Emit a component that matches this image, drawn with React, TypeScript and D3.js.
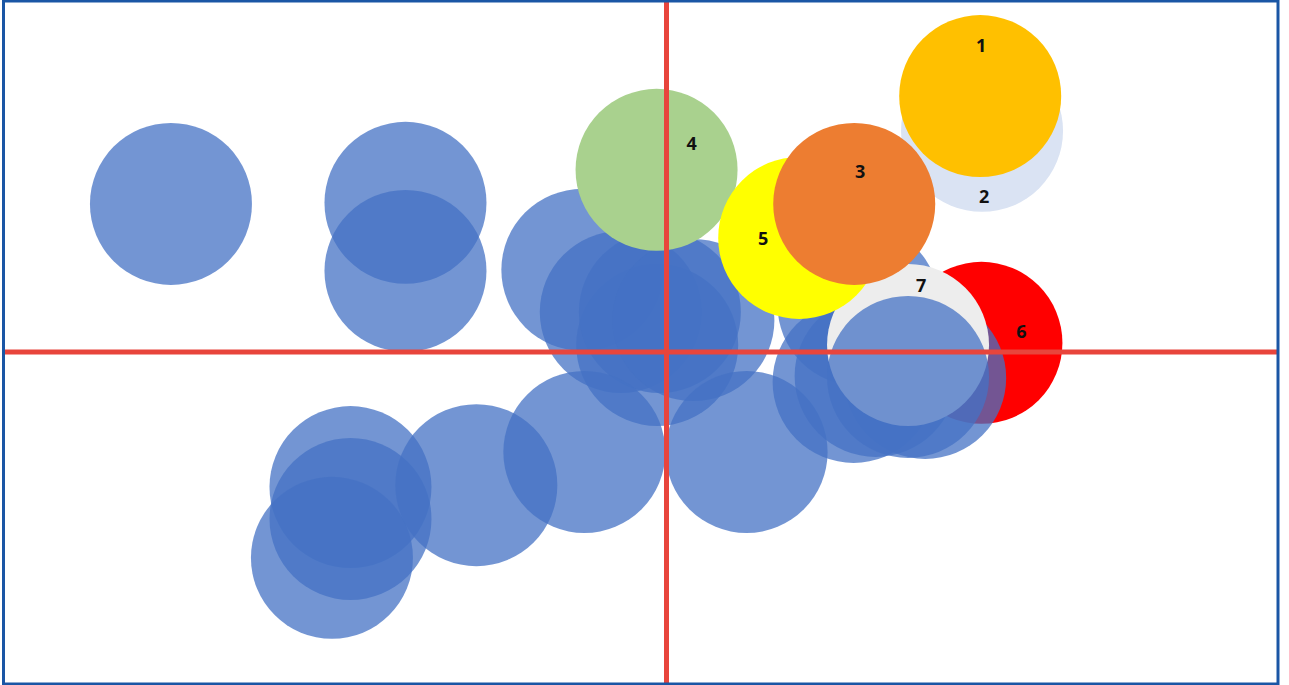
import * as d3 from 'd3';
import * as React from 'react';

const { useRef, useEffect } = React;

const width = 1289;
const height = 685;

// quadrant values: each axis runs -100..100 with the cross at 0
const blueBackX = [-74.8, -39.4, -39.4, -12.7, -6.9, -1.4, -1.0, 4.4, -47.7, -47.7, -50.5, -28.7, -12.4, 13.1, 31.4];
const blueBackY = [42.2, 42.5, 23.1, 23.4, 11.4, 2.0, 11.4, 9.1, -40.7, -50.3, -62.0, -40.1, -30.1, -30.1, 13.4];

// the group sitting round bubble 7
const blueClusterX = [30.6, 34.2, 42.3];
const blueClusterY = [-9.0, -7.2, -7.8];

// the one drawn over bubble 7
const blueTopX = [39.5];
const blueTopY = [-7.5];

const labels = ['4', '6', '7', '5', '2', '1', '3'];
const labelX = [-1.5, 51.5, 39.5, 21.7, 51.6, 51.3, 30.7];
const labelY = [51.9, 2.6, 2.0, 32.5, 63.0, 72.9, 42.2];
const labelColors = ['#A9D18E', '#FF0000', '#EDEDED', '#FFFF00', '#DAE3F3', '#FFC000', '#ED7D31'];

// where each number sits relative to its bubble (px)
const textOffset: Record<string, [number, number]> = {
  '1': [1, -51],
  '2': [2, 65],
  '3': [6, -33],
  '4': [35, -27],
  '5': [-36, 0],
  '6': [40, -12],
  '7': [13, -60],
};

type Bubble = { x: number; y: number; fill: string; opacity: number; label?: string };

const blue = (xs: number[], ys: number[]): Bubble[] =>
  xs.map((v, i) => ({ x: v, y: ys[i], fill: '#4472C4', opacity: 0.75 }));

export default () => {
  const rootRef = useRef<SVGSVGElement>(null);

  useEffect(() => {
    document.body.style.margin = '0';
    const svgEl = rootRef.current;
    if (!svgEl) {
      return;
    }

    const x = d3.scaleLinear().domain([-100, 0, 100]).range([4, 666.5, 1278]);
    const y = d3.scaleLinear().domain([-100, 0, 100]).range([684, 352, 1]);
    const r = 81;

    const colored: Bubble[] = labels.map((l, i) => ({
      x: labelX[i],
      y: labelY[i],
      fill: labelColors[i],
      opacity: 1,
      label: l,
    }));

    // paint order: blue behind, 4, 6, blue cluster, 7, blue on top, then 5, 2, 1, 3
    const ordered = [
      ...blue(blueBackX, blueBackY),
      ...colored.slice(0, 2),
      ...blue(blueClusterX, blueClusterY),
      colored[2],
      ...blue(blueTopX, blueTopY),
      ...colored.slice(3),
    ];

    const svg = d3.select(svgEl);
    svg.selectAll('*').remove();

    svg
      .append('g')
      .selectAll('circle')
      .data(ordered)
      .join('circle')
      .attr('cx', d => x(d.x))
      .attr('cy', d => y(d.y))
      .attr('r', r)
      .attr('fill', d => d.fill)
      .attr('fill-opacity', d => d.opacity);

    svg
      .append('line')
      .attr('x1', x(0))
      .attr('x2', x(0))
      .attr('y1', y(100))
      .attr('y2', y(-100))
      .attr('stroke', '#E8453C')
      .attr('stroke-width', 5);

    svg
      .append('line')
      .attr('x1', x(-100))
      .attr('x2', x(100))
      .attr('y1', y(0))
      .attr('y2', y(0))
      .attr('stroke', '#E8453C')
      .attr('stroke-width', 5);

    svg
      .append('g')
      .selectAll('text')
      .data(colored)
      .join('text')
      .attr('x', d => x(d.x) + textOffset[d.label as string][0])
      .attr('y', d => y(d.y) + textOffset[d.label as string][1])
      .attr('text-anchor', 'middle')
      .attr('dominant-baseline', 'central')
      .style('font', 'bold 18px "Open Sans", Lato, sans-serif')
      .attr('fill', '#111')
      .text(d => d.label as string);

    svg
      .append('rect')
      .attr('x', 3.5)
      .attr('y', 1)
      .attr('width', 1274.5)
      .attr('height', 683)
      .attr('fill', 'none')
      .attr('stroke', '#1A56A5')
      .attr('stroke-width', 3);
  }, []);

  return (
    <svg
      ref={rootRef}
      width={width}
      height={height}
      style={{ position: 'absolute', left: 0, top: 0, background: '#fff' }}
    />
  );
};
